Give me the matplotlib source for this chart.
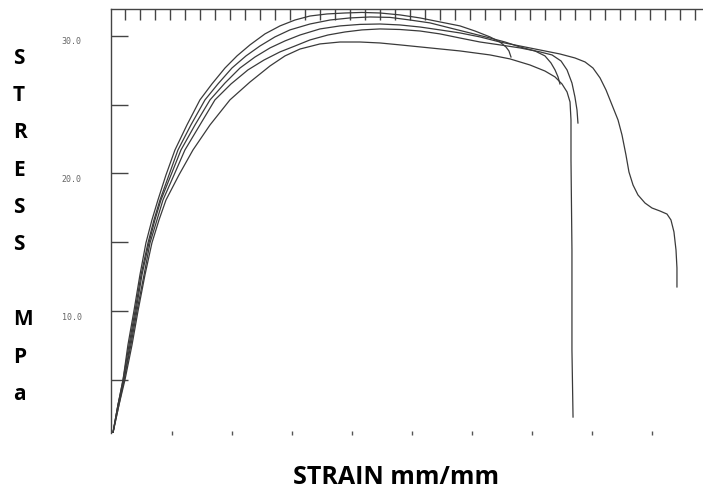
import numpy as np
import matplotlib
matplotlib.use("Agg")
import matplotlib.pyplot as plt
import matplotlib.transforms as mtransforms

# stress-strain traces (strain mm/mm, stress MPa)
strain_a = [0.0008, 0.005, 0.0092, 0.0133, 0.0183, 0.0233, 0.0283, 0.0333, 0.0383, 0.045,
            0.0525, 0.0625, 0.0733, 0.0833, 0.0942, 0.1042, 0.115, 0.1275, 0.14, 0.1525,
            0.165, 0.1792, 0.1942, 0.2083, 0.2233, 0.24, 0.2567, 0.2733, 0.29, 0.3025,
            0.315, 0.3233, 0.3283, 0.3308, 0.3325]
stress_a = [1.13, 3.16, 4.98, 7.53, 10.0, 12.62, 14.95, 16.62, 18.07, 19.89,
            21.71, 23.53, 25.35, 26.51, 27.67, 28.55, 29.35, 30.15, 30.73, 31.16,
            31.45, 31.6, 31.67, 31.71, 31.67, 31.53, 31.31, 31.02, 30.73, 30.36,
            29.93, 29.56, 29.2, 28.91, 28.47]

strain_b = [0.0008, 0.005, 0.0092, 0.0142, 0.0192, 0.0242, 0.03, 0.035, 0.04, 0.0475,
            0.055, 0.0658, 0.0775, 0.0883, 0.1, 0.1117, 0.1233, 0.1358, 0.1483, 0.165,
            0.1817, 0.1983, 0.215, 0.2317, 0.2483, 0.265, 0.2817, 0.2983, 0.315, 0.3275,
            0.34, 0.3525, 0.3608, 0.3658, 0.3692, 0.3717, 0.3733]
stress_b = [1.13, 3.16, 4.98, 7.53, 10.0, 12.62, 14.95, 16.62, 18.07, 19.89,
            21.71, 23.53, 25.35, 26.51, 27.67, 28.55, 29.27, 29.93, 30.44, 30.87,
            31.16, 31.31, 31.38, 31.35, 31.16, 30.95, 30.58, 30.22, 29.85, 29.56,
            29.2, 28.91, 28.55, 28.04, 27.53, 27.02, 26.51]

strain_c = [0.0008, 0.005, 0.01, 0.015, 0.02, 0.025, 0.0308, 0.0358, 0.0408, 0.0492,
            0.0575, 0.0692, 0.0817, 0.0942, 0.1067, 0.1192, 0.1317, 0.1442, 0.1567, 0.1733,
            0.19, 0.2067, 0.2233, 0.24, 0.2567, 0.2733, 0.29, 0.3067, 0.3233, 0.34,
            0.3567, 0.3733, 0.3858, 0.3942, 0.4008, 0.4067, 0.4117, 0.4167, 0.4217, 0.425,
            0.4283, 0.4308, 0.4342, 0.4383, 0.4442, 0.45, 0.4567, 0.4625, 0.4658, 0.4683,
            0.47, 0.4708, 0.4708]
stress_c = [1.13, 3.16, 4.98, 7.53, 10.0, 12.62, 14.95, 16.62, 18.07, 19.89,
            21.71, 23.53, 25.35, 26.58, 27.67, 28.47, 29.13, 29.64, 30.07, 30.51,
            30.73, 30.84, 30.87, 30.8, 30.65, 30.44, 30.22, 29.93, 29.56, 29.27,
            28.98, 28.69, 28.4, 28.11, 27.67, 26.95, 26.07, 24.98, 23.89, 22.8,
            21.35, 20.11, 19.16, 18.44, 17.85, 17.49, 17.27, 17.05, 16.62, 15.75,
            14.44, 13.13, 11.75]

strain_d = [0.0008, 0.0058, 0.01, 0.0158, 0.0208, 0.0267, 0.0317, 0.0375, 0.0425, 0.0517,
            0.0608, 0.0733, 0.0858, 0.0992, 0.1133, 0.1267, 0.14, 0.1525, 0.165, 0.18,
            0.1942, 0.2083, 0.2233, 0.24, 0.2567, 0.2733, 0.29, 0.3067, 0.3233, 0.34,
            0.3567, 0.3667, 0.3742, 0.3792, 0.3833, 0.3858, 0.3875, 0.3883]
stress_d = [1.13, 3.16, 4.98, 7.53, 10.0, 12.62, 14.95, 16.62, 18.07, 19.89,
            21.71, 23.53, 25.35, 26.51, 27.53, 28.25, 28.84, 29.27, 29.71, 30.07,
            30.29, 30.44, 30.51, 30.47, 30.36, 30.15, 29.85, 29.56, 29.35, 29.13,
            28.84, 28.62, 28.18, 27.53, 26.58, 25.56, 24.62, 23.67]

strain_e = [0.0008, 0.0058, 0.0108, 0.0167, 0.0217, 0.0275, 0.0333, 0.0392, 0.045, 0.0558,
            0.0675, 0.0817, 0.0983, 0.115, 0.1317, 0.1442, 0.1567, 0.1733, 0.19, 0.2067,
            0.2233, 0.24, 0.265, 0.29, 0.315, 0.3317, 0.3483, 0.3608, 0.3692, 0.375,
            0.3792, 0.3817, 0.3825, 0.3825, 0.3833, 0.3833, 0.3842]
stress_e = [1.13, 3.16, 4.98, 7.53, 10.0, 12.62, 14.95, 16.62, 18.07, 19.89,
            21.71, 23.53, 25.35, 26.65, 27.82, 28.55, 29.05, 29.42, 29.56, 29.56,
            29.49, 29.35, 29.13, 28.91, 28.62, 28.33, 27.89, 27.45, 27.02, 26.51,
            25.93, 25.2, 23.89, 20.98, 14.44, 7.16, 2.29]

ytick_vals = [5, 10, 15, 20, 25, 30]
ytick_text = ["", "10.0", "", "20.0", "", "30.0"]
ylabel_letters = ["S", "T", "R", "E", "S", "S", "", "M", "P", "a"]

fig = plt.figure(figsize=(7.03, 4.93), dpi=100)
ax = fig.add_axes([111 / 703, 60 / 493, 592 / 703, 424 / 493])

line_col = "#3a3a3a"
for xs, ys in [(strain_a, stress_a), (strain_b, stress_b), (strain_c, stress_c),
               (strain_d, stress_d), (strain_e, stress_e)]:
    ax.plot(xs, ys, color=line_col, lw=0.9)

ax.set_xlim(-0.0008, 0.4925)
ax.set_ylim(1.13, 31.96)

for s in ["right", "bottom"]:
    ax.spines[s].set_visible(False)
for s in ["left", "top"]:
    ax.spines[s].set_color("#444444")
    ax.spines[s].set_linewidth(1.0)

# y ticks pointing into the plot, labels only every 10
ax.set_yticks(ytick_vals)
ax.set_yticklabels(ytick_text, family="DejaVu Sans Mono", fontsize=6, color="#666666")
ax.tick_params(axis="y", direction="in", length=12, width=1.0, color="#444444", pad=21)
offset = mtransforms.ScaledTranslation(0, -5 / 100, fig.dpi_scale_trans)
for lab in ax.get_yticklabels():
    lab.set_transform(lab.get_transform() + offset)

# small marks along the bottom
ax.set_xticks(np.arange(0.05, 0.46, 0.05))
ax.tick_params(axis="x", which="major", direction="inout", length=3, width=1.0,
               color="#555555", labelbottom=False)

# dense ticks along the top spine
top = ax.secondary_xaxis("top")
top.set_xticks(np.arange(0.0108, 0.49, 0.0125))
top.tick_params(direction="in", length=8, width=1.0, color="#444444", labeltop=False)
top.spines["top"].set_visible(False)

for i, ch in enumerate(ylabel_letters):
    if ch:
        fig.text(13 / 703, 1 - (58 + i * 37.4) / 493, ch, fontsize=15, fontweight="bold",
                 family="Open Sans", ha="left", va="center")

fig.text(396 / 703, 1 - 478 / 493, "STRAIN mm/mm", fontsize=18, fontweight="bold",
         family="Open Sans", ha="center", va="center")

fig.savefig("out.png", dpi=100)
